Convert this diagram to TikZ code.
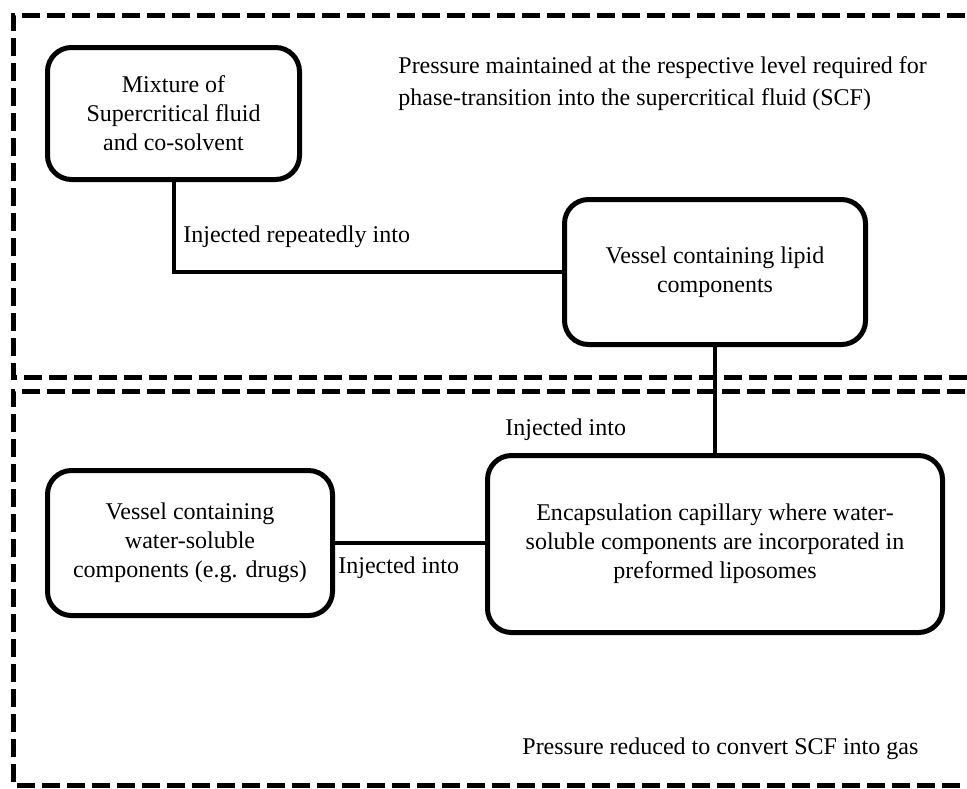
\documentclass[tikz,border=0pt]{standalone}
\usepackage{fontspec}
\setmainfont{Liberation Serif}
\usetikzlibrary{calc}

\begin{document}
\begin{tikzpicture}[x=0.5pt, y=-0.5pt,
  stagebox/.style={draw, line width=2.5pt, dash pattern=on 9pt off 3.5pt},
  vesselbox/.style={draw, line width=2.5pt, rounded corners=12pt, align=center,
    inner sep=0pt, font=\fontsize{12}{14.5}\selectfont},
  link/.style={line width=2pt},
  linklabel/.style={anchor=west, inner sep=0pt, font=\fontsize{12}{14.5}\selectfont}]
\clip (0,0) rectangle (967,788);
% Draw the two pressure stages
\draw[stagebox] (990,15) -- (13,15) -- (13,377) -- (990,377);
\draw[stagebox] (990,391) -- (13,391) -- (13,785) -- (990,785);
\node[linklabel, align=left] (highp) at (398,84)
  {Pressure maintained at the respective level required for\\[1.5pt]
   phase-transition into the supercritical fluid (SCF)};
\node[linklabel] (lowp) at (522,749) {Pressure reduced to convert SCF into gas};
% Draw the vessels
\node[vesselbox, minimum width=126pt, minimum height=66pt] (mixture) at (173.5,113.5)
  {Mixture of\\Supercritical fluid\\and co-solvent};
\node[vesselbox, minimum width=150.5pt, minimum height=72.5pt] (lipid) at (715,272)
  {Vessel containing lipid\\components};
\node[vesselbox, minimum width=142.5pt, minimum height=72.5pt] (water) at (190,543)
  {Vessel containing\\water-soluble\\components (e.g. drugs)};
\node[vesselbox, minimum width=227.5pt, minimum height=88.5pt] (capillary) at (715,544)
  {Encapsulation capillary where water-\\soluble components are incorporated in\\preformed liposomes};
% Draw the injection lines
\draw[link] (mixture.south) |- (lipid.west);
\draw[link] (lipid.south) -- (capillary.north);
\draw[link] (water.east) -- (water.east -| capillary.west);
\node[linklabel] (inject1) at (183,237) {Injected repeatedly into};
\node[linklabel] (inject2) at (505,430) {Injected into};
\node[linklabel] (inject3) at (338,568) {Injected into};
\end{tikzpicture}
\end{document}
